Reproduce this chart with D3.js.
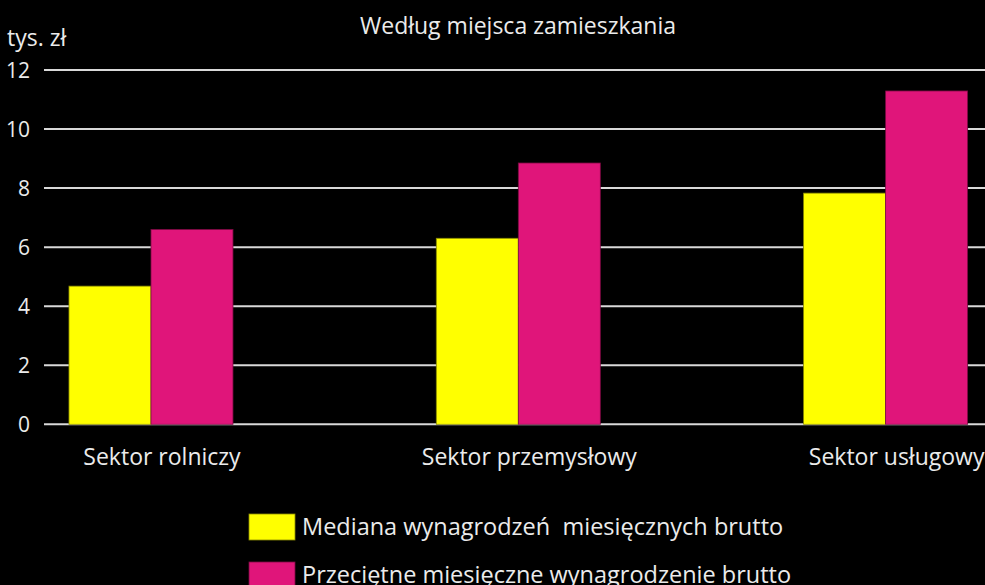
<!DOCTYPE html>
<html><head><meta charset="utf-8">
<script src="https://cdn.jsdelivr.net/npm/d3@7/dist/d3.min.js"></script>
<style>html,body{margin:0;padding:0;background:#000;}svg{display:block;}</style>
</head><body>
<script>
const categories = ["Sektor rolniczy", "Sektor przemysłowy", "Sektor usługowy"];
const seriesNames = ["Mediana wynagrodzeń  miesięcznych brutto", "Przeciętne miesięczne wynagrodzenie brutto"];
const medianValues = [4.68, 6.3, 7.83];
const averageValues = [6.6, 8.85, 11.29];
const yTicks = [0, 2, 4, 6, 8, 10, 12];
const colors = ["#FFFF00", "#E0157A"];
const strokes = ["#8a8a00", "#7a0b42"];
const title = "Według miejsca zamieszkania";
const unitLabel = "tys. zł";

const W = 985, H = 585;
const font = "'Open Sans', 'Noto Sans', sans-serif";
const txt = "#ebebeb";
const svg = d3.select("body").append("svg").attr("width", W).attr("height", H)
  .style("background", "#000").style("font-family", font);

const y = d3.scaleLinear().domain([0, 12]).range([424.3, 70]);
const x0 = d3.scaleBand().domain(categories).range([44, 992.6]).paddingInner(0.5535).paddingOuter(0.068);
const x1 = d3.scaleBand().domain([0, 1]).range([0, x0.bandwidth()]);

// gridlines
svg.append("g").selectAll("line").data(yTicks).join("line")
  .attr("x1", 44).attr("x2", W).attr("y1", d => y(d)).attr("y2", d => y(d))
  .attr("stroke", "#d9d9d9").attr("stroke-width", 2);

// y tick labels
svg.append("g").selectAll("text").data(yTicks).join("text")
  .attr("x", 30).attr("y", d => y(d)).attr("dy", "0.36em")
  .attr("text-anchor", "end").attr("fill", txt).attr("font-size", 21)
  .text(d => d);

svg.append("text").attr("x", 7).attr("y", 46).attr("fill", txt).attr("font-size", 23).text(unitLabel);
svg.append("text").attr("x", 518).attr("y", 34).attr("text-anchor", "middle").attr("fill", txt).attr("font-size", 23).text(title);

const series = [medianValues, averageValues];
const g = svg.append("g");
categories.forEach((c, i) => {
  series.forEach((vals, s) => {
    g.append("rect")
      .attr("x", x0(c) + x1(s)).attr("width", x1.bandwidth())
      .attr("y", y(vals[i])).attr("height", y(0) - y(vals[i]))
      .attr("fill", colors[s]).attr("stroke", strokes[s]).attr("stroke-width", 0.8);
  });
});

// x labels
svg.append("g").selectAll("text").data(categories).join("text")
  .attr("x", d => x0(d) + x0.bandwidth() / 2 + 11).attr("y", 465)
  .attr("text-anchor", "middle").attr("fill", txt).attr("font-size", 23)
  .text(d => d);

// legend
const leg = svg.append("g");
seriesNames.forEach((n, s) => {
  const ly = 514 + s * 48;
  leg.append("rect").attr("x", 249).attr("y", ly).attr("width", 46).attr("height", 26)
    .attr("fill", colors[s]).attr("stroke", strokes[s]).attr("stroke-width", 0.8);
  leg.append("text").attr("x", 302).attr("y", ly + 13).attr("dy", "0.36em")
    .attr("fill", txt).attr("font-size", 23.5).style("white-space", "pre").text(n);
});
</script>
</body></html>
